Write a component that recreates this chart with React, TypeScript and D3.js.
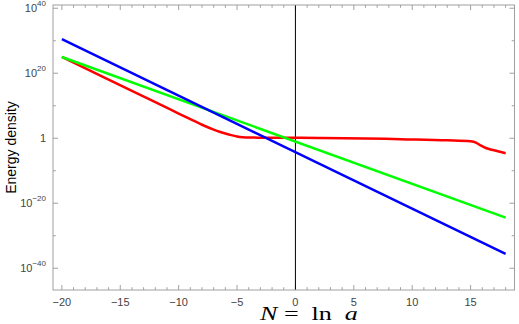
import React from "react";
import * as d3 from "d3";

const width = 519;
const height = 324;
const margins = { top: 5, right: 4.5, bottom: 34, left: 53 };

// x: N = ln a, y: log10 of the energy density
const xDomain = [-20.76, 18.76];
const yDomain = [-46.7, 41];

const xMajorTicks = [-20, -15, -10, -5, 0, 5, 10, 15];
const xMinorTicks = [-19, -18, -17, -16, -14, -13, -12, -11, -9, -8, -7, -6, -4, -3, -2, -1, 1, 2, 3, 4, 6, 7, 8, 9, 11, 12, 13, 14, 16, 17, 18];
const yMajorExponents = [40, 20, 0, -20, -40];
const yMinorExponents = [30, 10, -10, -30];

// blue
const radiationN = [-20, 18];
const radiationLog = [30.5, -35.6];

// green
const matterN = [-20, 18];
const matterLog = [25.0, -24.45];

// red
const fieldN = [-20, -16, -12, -10, -9, -8, -7, -6.5, -6, -5.5, -5, -4.5, -4, -3, -1, 2, 6, 9, 13, 15, 15.5, 15.9, 16.3, 17, 18];
const fieldLog = [25.0, 18.0, 11.1, 7.6, 5.85, 4.15, 2.65, 2.0, 1.45, 0.95, 0.55, 0.32, 0.22, 0.18, 0.15, 0.1, -0.05, -0.3, -0.65, -0.95, -1.4, -2.3, -3.0, -3.7, -4.6];

const series = [
  { id: "field", color: "#ff0000", n: fieldN, v: fieldLog },
  { id: "matter", color: "#00ff00", n: matterN, v: matterLog },
  { id: "radiation", color: "#0000ff", n: radiationN, v: radiationLog },
];

const frameColor = "#a0a0a0";
const labelColor = "#444";
const sans = "'Liberation Sans', Arial, sans-serif";

const fmt = (n: number) => (n < 0 ? "\u2212" + Math.abs(n) : String(n));

export default function App() {
  const x0 = margins.left;
  const x1 = width - margins.right;
  const y0 = height - margins.bottom;
  const y1 = margins.top;

  const xScale = d3.scaleLinear().domain(xDomain).range([x0, x1]);
  const yScale = d3.scaleLinear().domain(yDomain).range([y0, y1]);

  const line = d3
    .line<[number, number]>()
    .x((d) => xScale(d[0]))
    .y((d) => yScale(d[1]))
    .curve(d3.curveMonotoneX);

  const xTick = (t: number, len: number) => {
    const px = xScale(t);
    return (
      <g key={"x" + t}>
        <line x1={px} x2={px} y1={y0} y2={y0 - len} stroke={frameColor} />
        <line x1={px} x2={px} y1={y1} y2={y1 + len} stroke={frameColor} />
      </g>
    );
  };
  const yTick = (t: number, len: number) => {
    const py = yScale(t);
    return (
      <g key={"y" + t}>
        <line x1={x0} x2={x0 + len} y1={py} y2={py} stroke={frameColor} />
        <line x1={x1} x2={x1 - len} y1={py} y2={py} stroke={frameColor} />
      </g>
    );
  };

  return (
    <svg
      width={width}
      height={height}
      style={{ position: "absolute", left: 0, top: 0, background: "#fff" }}
    >
      <defs>
        <clipPath id="plot-area">
          <rect x={x0} y={y1} width={x1 - x0} height={y0 - y1} />
        </clipPath>
      </defs>

      {/* frame ticks */}
      {xMinorTicks.map((t) => xTick(t, 2.8))}
      {xMajorTicks.map((t) => xTick(t, 5))}
      {yMinorExponents.map((t) => yTick(t, 2.8))}
      {yMajorExponents.map((t) => yTick(t, 5))}

      {/* N = 0 */}
      <line
        x1={xScale(0)}
        x2={xScale(0)}
        y1={y1}
        y2={y0}
        stroke="#000"
        strokeWidth={1}
      />

      <g clipPath="url(#plot-area)">
        {series.map((s) => (
          <path
            key={s.id}
            d={line(s.n.map((n, i) => [n, s.v[i]] as [number, number])) || ""}
            fill="none"
            stroke={s.color}
            strokeWidth={2.5}
            strokeLinejoin="round"
          />
        ))}
      </g>

      <rect
        x={x0}
        y={y1}
        width={x1 - x0}
        height={y0 - y1}
        fill="none"
        stroke={frameColor}
      />

      {/* tick labels */}
      {xMajorTicks.map((t) => (
        <text
          key={"xl" + t}
          x={xScale(t)}
          y={y0 + 15.5}
          textAnchor="middle"
          fontFamily={sans}
          fontSize={11}
          fill={labelColor}
        >
          {fmt(t)}
        </text>
      ))}
      {yMajorExponents.map((t) => (
        <text
          key={"yl" + t}
          x={x0 - 7}
          y={yScale(t) + 3.8}
          textAnchor="end"
          fontFamily={sans}
          fontSize={11}
          fill={labelColor}
        >
          {t === 0 ? (
            "1"
          ) : (
            <>
              10
              <tspan dy={-6} fontSize={8}>
                {fmt(t)}
              </tspan>
            </>
          )}
        </text>
      ))}

      {/* axis labels */}
      <text
        transform={`translate(15.5, ${(y0 + y1) / 2}) rotate(-90)`}
        textAnchor="middle"
        fontFamily={sans}
        fontSize={14}
        fill="#000"
      >
        Energy density
      </text>
      <text
        transform="translate(260, 320) scale(1.45, 1)"
        fontFamily="'Liberation Serif', 'DejaVu Serif', serif"
        fontSize={18}
        fill="#000"
      >
        <tspan x={0} fontStyle="italic">N</tspan>
        <tspan x={16.5}>=</tspan>
        <tspan x={35.5}>ln</tspan>
        <tspan x={58.5} fontStyle="italic">a</tspan>
      </text>
    </svg>
  );
}
